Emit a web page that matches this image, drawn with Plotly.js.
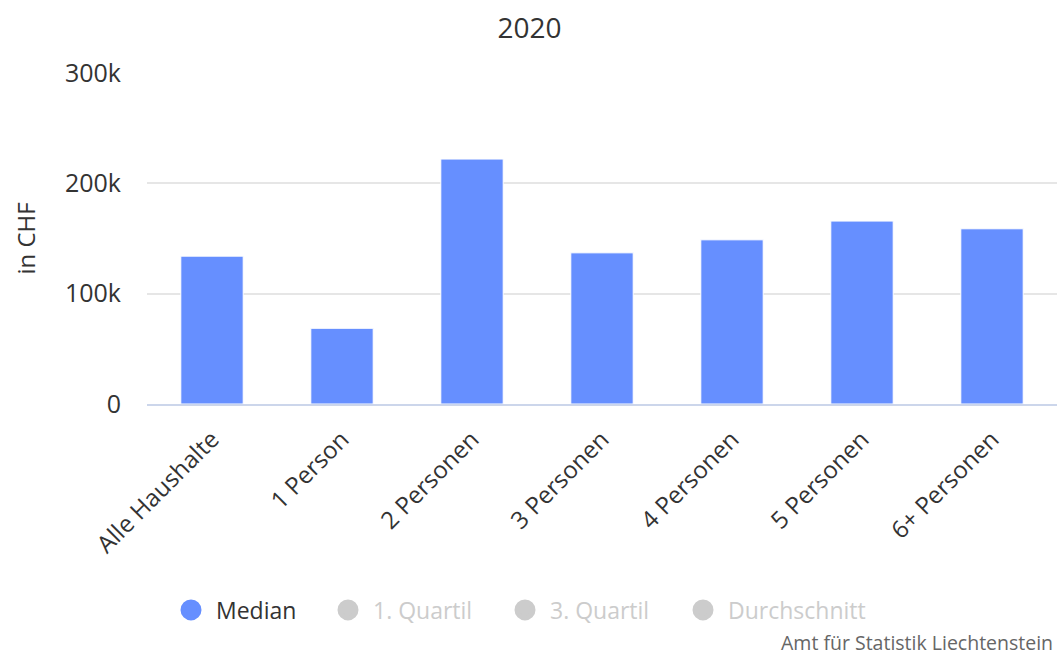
<!DOCTYPE html>
<html>
<head>
<meta charset="utf-8">
<script src="https://cdn.plot.ly/plotly-3.0.1.min.js"></script>
<style>html,body{margin:0;padding:0;background:#fff;}#chart{width:1059px;height:655px;}</style>
</head>
<body>
<div id="chart"></div>
<script>
const categories = ["Alle Haushalte", "1 Person", "2 Personen", "3 Personen", "4 Personen", "5 Personen", "6+ Personen"];
const medianValues = [134000, 68600, 222000, 137000, 148800, 165800, 158800];
const seriesNames = ["Median", "1. Quartil", "3. Quartil", "Durchschnitt"];
const yTickValues = [0, 100000, 200000, 300000];
const yTickLabels = ["0", "100k", "200k", "300k"];
const chartTitle = "2020";
const yTitle = "in CHF";
const sourceText = "Amt für Statistik Liechtenstein";

const FONT = "Open Sans, Noto Sans, sans-serif";
const BLUE = "#668fff";
const GREY = "#cccccc";
const W = 1059, H = 655;
const legendLeft = [178, 335, 512, 690];

const traces = [
  {
    type: "bar",
    x: categories,
    y: medianValues,
    name: seriesNames[0],
    showlegend: false,
    marker: {color: BLUE, line: {color: "#ffffff", width: 1}},
    hoverinfo: "x+y"
  }
];
const legendNames = ["legend", "legend2", "legend3", "legend4"];
for (let i = 0; i < seriesNames.length; i++) {
  const c = i === 0 ? BLUE : GREY;
  traces.push({
    type: "scatter", mode: "markers", x: [categories[0]], y: [null],
    name: i === 0 ? seriesNames[i] : '<span style="color:' + GREY + '">' + seriesNames[i] + '</span>',
    legend: legendNames[i],
    marker: {color: c, size: 16, symbol: "circle", line: {color: c, width: 5}},
    hoverinfo: "skip"
  });
}

function legendCfg(i) {
  return {orientation: "h", xref: "container", yref: "container",
          x: (legendLeft[i] - 12) / W, xanchor: "left", y: 1 - 610 / H, yanchor: "middle",
          itemwidth: 40, bgcolor: "rgba(0,0,0,0)",
          font: {family: FONT, size: 23, color: "#333333"}, itemclick: false, itemdoubleclick: false};
}

const layout = {
  width: W, height: H,
  margin: {l: 147, r: 2, t: 73, b: 251, pad: 0},
  paper_bgcolor: "#ffffff", plot_bgcolor: "#ffffff",
  font: {family: FONT, color: "#333333", size: 24},
  title: {text: chartTitle, x: 0.5, xref: "container", y: 1 - 28 / H, yref: "container", yanchor: "middle",
          font: {family: FONT, size: 28, color: "#333333"}},
  bargap: 0.52,
  showlegend: true,
  legend: legendCfg(0),
  legend2: legendCfg(1),
  legend3: legendCfg(2),
  legend4: legendCfg(3),
  xaxis: {
    type: "category", categoryorder: "array", categoryarray: categories, range: [-0.5, categories.length - 0.5],
    tickangle: -45, showgrid: false, zeroline: false,
    showline: true, linecolor: "#ccd6eb", linewidth: 1.5,
    ticks: "", ticklabelstandoff: 10,
    tickfont: {family: FONT, size: 24, color: "#333333"},
    fixedrange: true
  },
  yaxis: {
    range: [0, 300000], tickvals: yTickValues, ticktext: yTickLabels,
    showgrid: true, gridcolor: "#e6e6e6", gridwidth: 1.5, zeroline: false, showline: false,
    ticks: "", ticklabelstandoff: 25,
    tickfont: {family: FONT, size: 25, color: "#333333"},
    title: {text: yTitle, font: {family: FONT, size: 24, color: "#333333"}, standoff: 22},
    fixedrange: true
  },
  annotations: [{
    text: sourceText, xref: "paper", yref: "paper", x: (1055 - 147) / 910, y: (404 - 642) / 331,
    xanchor: "right", yanchor: "middle", showarrow: false,
    font: {family: FONT, size: 19.5, color: "#666666"}
  }]
};

Plotly.newPlot("chart", traces, layout, {displayModeBar: false});
</script>
</body>
</html>
